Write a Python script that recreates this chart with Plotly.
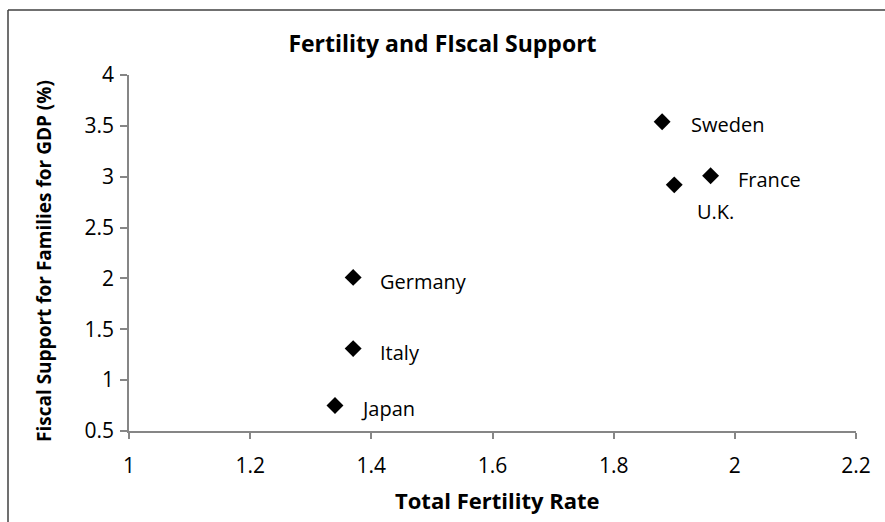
import plotly.graph_objects as go

countries = ["Sweden", "France", "U.K.", "Germany", "Italy", "Japan"]
fertility = [1.88, 1.96, 1.90, 1.37, 1.37, 1.34]
support = [3.54, 3.01, 2.92, 2.01, 1.31, 0.75]
x_ticks = [1, 1.2, 1.4, 1.6, 1.8, 2, 2.2]
x_tick_labels = ["1", "1.2", "1.4", "1.6", "1.8", "2", "2.2"]
y_ticks = [0.5, 1, 1.5, 2, 2.5, 3, 3.5, 4]
y_tick_labels = ["0.5", "1", "1.5", "2", "2.5", "3", "3.5", "4"]

FONT = "Open Sans"
W, H = 885, 522
L, R, T, B = 129, 29, 75, 91

fig = go.Figure()
fig.add_trace(go.Scatter(
    x=fertility, y=support, mode="markers",
    marker=dict(symbol="diamond", size=13, color="black"),
    showlegend=False, hoverinfo="text", text=countries,
))

# label offsets (px)
offsets = {"U.K.": (21, -27), "Sweden": (27, -3), "Japan": (24, -3)}
for c, xv, yv in zip(countries, fertility, support):
    dx, dy = offsets.get(c, (25, -4))
    fig.add_annotation(x=xv, y=yv, text=c, showarrow=False,
                       xanchor="left", yanchor="middle",
                       xshift=dx, yshift=dy,
                       font=dict(family=FONT, size=20, color="black"))

pw = W - L - R
ph = H - T - B
# border (top and left visible)
x_left = (8 - L) / pw
y_top = 1 + (T - 10) / ph
fig.add_shape(type="line", xref="paper", yref="paper",
              x0=x_left, x1=(W + 20 - L) / pw, y0=y_top, y1=y_top,
              line=dict(color="#404040", width=1.5))
fig.add_shape(type="line", xref="paper", yref="paper",
              x0=x_left, x1=x_left, y0=y_top, y1=-(B + 20) / ph,
              line=dict(color="#404040", width=1.5))

# y-axis title as annotation
fig.add_annotation(xref="paper", yref="paper",
                   x=(44 - L) / pw, y=(H - B - 261) / ph,
                   xanchor="center", yanchor="middle", textangle=-90,
                   showarrow=False,
                   text="<b>Fiscal Support for Families for GDP (%)</b>",
                   font=dict(family=FONT, size=19, color="black"))

# x-axis title as annotation
fig.add_annotation(xref="paper", yref="paper",
                   x=(497 - L) / pw, y=(H - B - 500) / ph,
                   xanchor="center", yanchor="middle",
                   showarrow=False,
                   text="<b>Total Fertility Rate</b>",
                   font=dict(family=FONT, size=22, color="black"))

fig.update_layout(
    width=W, height=H,
    margin=dict(l=L, r=R, t=T, b=B),
    paper_bgcolor="white", plot_bgcolor="white",
    font=dict(family=FONT, color="black"),
    title=dict(text="<b>Fertility and FIscal Support</b>",
               x=0.5, xanchor="center", xref="container",
               y=1 - 44 / H, yanchor="middle",
               font=dict(family=FONT, size=23, color="black")),
    xaxis=dict(range=[1, 2.2], tickvals=x_ticks, ticktext=x_tick_labels,
               showgrid=False, zeroline=False, showline=True,
               linecolor="#868686", linewidth=1.5,
               ticks="outside", ticklen=6, tickcolor="#868686", tickwidth=1.5,
               ticklabelstandoff=9,
               tickfont=dict(family=FONT, size=21, color="black")),
    yaxis=dict(range=[0.5, 4], tickvals=y_ticks, ticktext=y_tick_labels,
               showgrid=False, zeroline=False, showline=True,
               linecolor="#868686", linewidth=1.5,
               ticks="outside", ticklen=7, tickcolor="#868686", tickwidth=1.5,
               ticklabelstandoff=2,
               tickfont=dict(family=FONT, size=21, color="black")),
)

fig.write_html("out.html")
